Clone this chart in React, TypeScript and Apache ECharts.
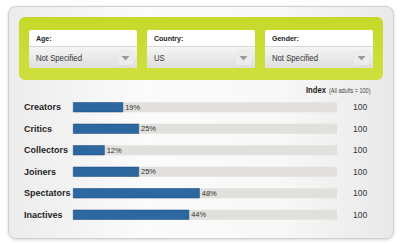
import React, { useEffect, useRef } from "react";
import * as echarts from "echarts";

const categories = ["Creators", "Critics", "Collectors", "Joiners", "Spectators", "Inactives"];
const percentValues = [19, 25, 12, 25, 48, 44];
const indexValues = [100, 100, 100, 100, 100, 100];
const filterLabels = ["Age:", "Country:", "Gender:"];
const filterValues = ["Not Specified", "US", "Not Specified"];

const FONT = "'Liberation Sans Narrow', 'Liberation Sans', Arial, sans-serif";

function dropdown(x: number, label: string, value: string) {
  const y = 30;
  const w = 108;
  return {
    type: "group",
    x,
    y,
    children: [
      { type: "rect", shape: { x: 0, y: 0, width: w, height: 38, r: 2 }, style: { fill: "#ffffff" } },
      {
        type: "rect",
        shape: { x: 0, y: 16, width: w, height: 22, r: [0, 0, 2, 2] },
        style: {
          fill: new echarts.graphic.LinearGradient(0, 0, 0, 1, [
            { offset: 0, color: "#f6f6f6" },
            { offset: 1, color: "#dedede" },
          ]),
        },
      },
      { type: "line", shape: { x1: 0, y1: 16.5, x2: w, y2: 16.5 }, style: { stroke: "#d8d8d8", lineWidth: 1 } },
      {
        type: "text",
        x: 7,
        y: 8.5,
        scaleX: 0.88,
        style: { text: label, font: `bold 8px ${FONT}`, fill: "#222", verticalAlign: "middle" },
      },
      {
        type: "text",
        x: 7,
        y: 27.5,
        scaleX: 0.86,
        style: { text: value, font: `9px ${FONT}`, fill: "#333", verticalAlign: "middle" },
      },
      {
        type: "rect",
        shape: { x: 89, y: 20, width: 15, height: 15, r: 2 },
        style: { fill: "#ececec" },
      },
      {
        type: "polygon",
        shape: { points: [[92.5, 26], [100.5, 26], [96.5, 30.5]] },
        style: { fill: "#9a9a9a" },
      },
    ],
  };
}

export default function App() {
  const ref = useRef<HTMLDivElement>(null);
  useEffect(() => {
    if (!ref.current) return;
    const chart = echarts.init(ref.current, null, { renderer: "svg" });
    chart.setOption({
      animation: false,
      backgroundColor: "#ffffff",
      graphic: [
        {
          type: "rect",
          z: -10,
          shape: { x: 8.5, y: 6.5, width: 385, height: 232, r: 7 },
          style: {
            fill: new echarts.graphic.LinearGradient(0, 0, 1, 0, [
              { offset: 0, color: "#ececec" },
              { offset: 0.35, color: "#fbfbfb" },
              { offset: 0.7, color: "#f8f8f8" },
              { offset: 1, color: "#e9e9e9" },
            ]),
            stroke: "#cfcfcf",
            lineWidth: 1,
            shadowBlur: 3,
            shadowColor: "rgba(0,0,0,0.15)",
            shadowOffsetY: 1,
          },
        },
        {
          type: "rect",
          z: -5,
          shape: { x: 19, y: 17, width: 364, height: 63, r: 6 },
          style: {
            fill: new echarts.graphic.LinearGradient(0, 0, 0, 1, [
              { offset: 0, color: "#c5d92a" },
              { offset: 1, color: "#cfe03f" },
            ]),
          },
        },
        dropdown(29, filterLabels[0], filterValues[0]),
        dropdown(147, filterLabels[1], filterValues[1]),
        dropdown(265, filterLabels[2], filterValues[2]),
        {
          type: "text",
          x: 306,
          y: 90,
          scaleX: 0.85,
          style: { text: "Index", font: `bold 9px ${FONT}`, fill: "#222", verticalAlign: "middle" },
        },
        {
          type: "text",
          x: 329,
          y: 90.5,
          scaleX: 0.85,
          style: { text: "(All adults = 100)", font: `6.5px ${FONT}`, fill: "#444", verticalAlign: "middle" },
        },
      ],
      grid: { left: 73, right: 63, top: 96.5, bottom: 18.5 },
      xAxis: {
        type: "value",
        min: 0,
        max: 100,
        show: false,
      },
      yAxis: [
        {
          type: "category",
          data: categories,
          inverse: true,
          axisLine: { show: false },
          axisTick: { show: false },
          axisLabel: {
            align: "left",
            margin: 49,
            fontFamily: FONT,
            fontWeight: "bold",
            fontSize: 9,
            color: "#1e1e1e",
          },
        },
        {
          type: "category",
          data: indexValues.map(String),
          inverse: true,
          position: "right",
          axisLine: { show: false },
          axisTick: { show: false },
          axisLabel: {
            align: "left",
            margin: 16,
            fontFamily: FONT,
            fontSize: 8.5,
            color: "#333",
          },
        },
      ],
      series: [
        {
          type: "bar",
          yAxisIndex: 0,
          data: percentValues,
          barWidth: 10,
          showBackground: true,
          backgroundStyle: { color: "#e1e0dc" },
          itemStyle: { color: "#2c67a0", borderColor: "#1d4f80", borderWidth: 0.5 },
          label: {
            show: true,
            position: "right",
            distance: 2,
            formatter: "{c}%",
            fontFamily: FONT,
            fontSize: 7.5,
            color: "#333",
          },
        },
      ],
    });
    return () => chart.dispose();
  }, []);
  return <div ref={ref} style={{ position: "fixed", left: 0, top: 0, width: 400, height: 244 }} />;
}
